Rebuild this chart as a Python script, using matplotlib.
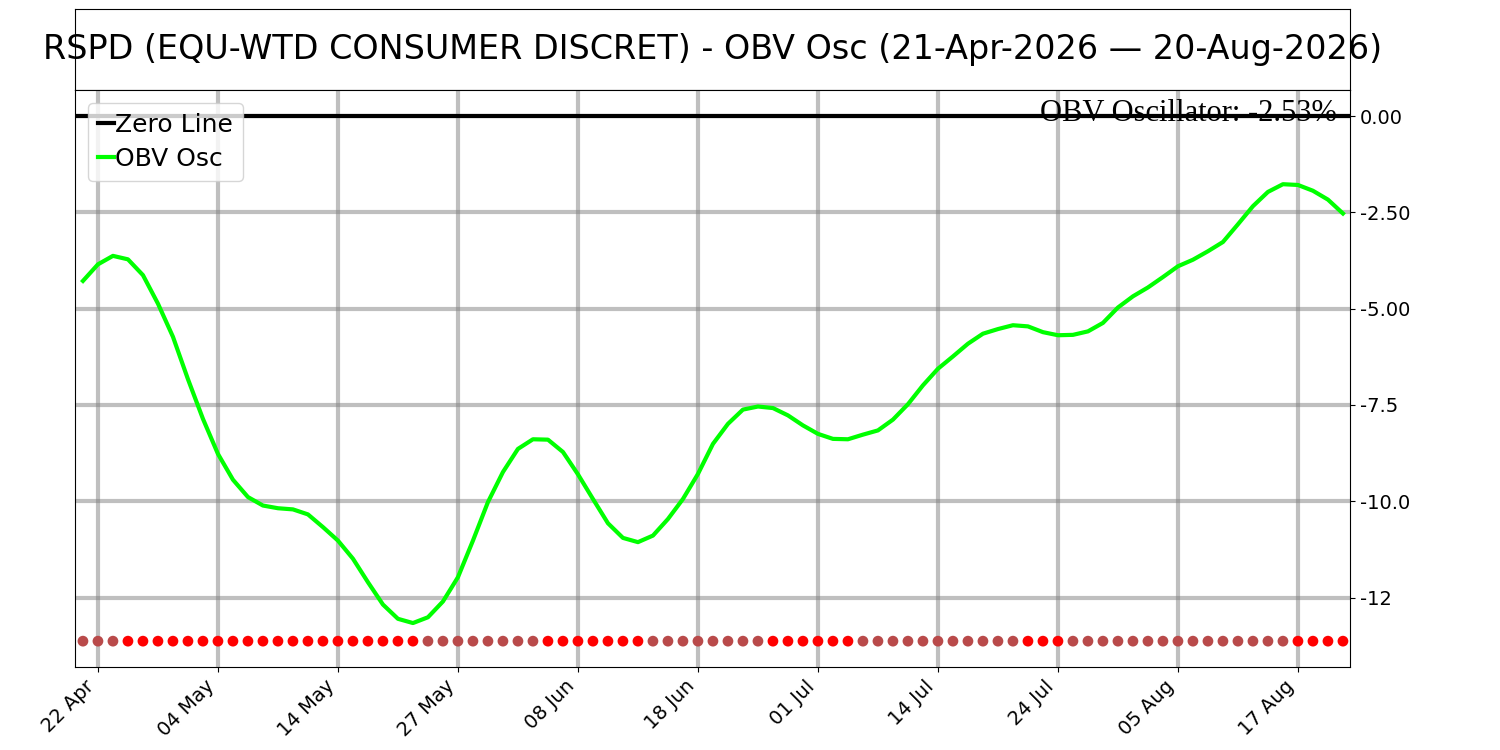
import matplotlib
matplotlib.use("Agg")
import matplotlib.pyplot as plt
import numpy as np
import pandas as pd

# trading days (NYSE holidays skipped)
HOLIDAYS = ["2026-05-25", "2026-06-19", "2026-07-03"]
DATES = pd.bdate_range("2026-04-21", "2026-08-20", freq="C", holidays=HOLIDAYS)

OBV_OSC = [
    -4.28, -3.85, -3.63, -3.72, -4.13, -4.87, -5.73, -6.83, -7.86, -8.77,
    -9.44, -9.89, -10.11, -10.18, -10.21, -10.34, -10.67, -11.02, -11.49, -12.10,
    -12.68, -13.05, -13.16, -13.01, -12.60, -11.97, -11.02, -10.02, -9.24, -8.64,
    -8.39, -8.40, -8.72, -9.30, -9.94, -10.57, -10.95, -11.06, -10.89, -10.46,
    -9.94, -9.29, -8.51, -7.99, -7.62, -7.54, -7.58, -7.77, -8.03, -8.25,
    -8.38, -8.39, -8.27, -8.16, -7.88, -7.48, -6.99, -6.56, -6.24, -5.91,
    -5.65, -5.53, -5.43, -5.46, -5.61, -5.69, -5.68, -5.59, -5.37, -4.97,
    -4.68, -4.45, -4.18, -3.90, -3.73, -3.51, -3.27, -2.81, -2.34, -1.97,
    -1.77, -1.79, -1.94, -2.17, -2.53,
]
TITLE = "RSPD (EQU-WTD CONSUMER DISCRET) - OBV Osc (21-Apr-2026 \u2014 20-Aug-2026)"
YTICKS = [0, -2.5, -5, -7.5, -10, -12.5]
YTICK_LABELS = ["0.00", "-2.50", "-5.00", "-7.5", "-10.0", "-12"]
DOT_LEVEL = -13.63

osc = np.array(OBV_OSC)
x = np.arange(len(osc))

fig = plt.figure(figsize=(15, 7.5), dpi=100)
ax_t = fig.add_axes([0.05, 0.88, 0.85, 0.108])
ax = fig.add_axes([0.05, 0.1107, 0.85, 0.7693])

# title box
ax_t.set_xticks([])
ax_t.set_yticks([])
ax_t.text(0.5, 0.5, TITLE, ha="center", va="center", fontsize=24,
          transform=ax_t.transAxes)

# main panel
ax.axhline(0, color="black", lw=3, label="Zero Line", zorder=3)
ax.plot(x, osc, color="lime", lw=3, label="OBV Osc", zorder=4)

# dots: red when falling, muted when rising
diff = np.diff(osc, prepend=osc[0])
dot_colors = np.where(diff < 0, "#ff0000", "#b94a4a")
ax.scatter(x, np.full(len(x), DOT_LEVEL), c=dot_colors, s=60, zorder=4,
           linewidths=0)

ax.text(0.99, 0.985, f"OBV Oscillator: {osc[-1]:.2f}%", transform=ax.transAxes,
        ha="right", va="top", fontsize=22, family="Liberation Serif", zorder=1)

ax.set_xlim(-0.53, len(x) - 0.53)
ax.set_ylim(-14.3, 0.675)

ticks = x[1::8]
ax.set_xticks(ticks)
ax.set_xticklabels([d.strftime("%d %b") for d in DATES[1::8]], rotation=45,
                   ha="right", fontsize=14)
ax.yaxis.tick_right()
ax.set_yticks(YTICKS)
ax.set_yticklabels(YTICK_LABELS, fontsize=14)
ax.grid(True, color="gray", alpha=0.5, lw=3)
ax.set_axisbelow(True)

ax.legend(loc="upper left", fontsize=18, handlelength=0.65, handletextpad=0.05,
          borderpad=0.4, labelspacing=0.4)

fig.savefig("out.png", dpi=100)
